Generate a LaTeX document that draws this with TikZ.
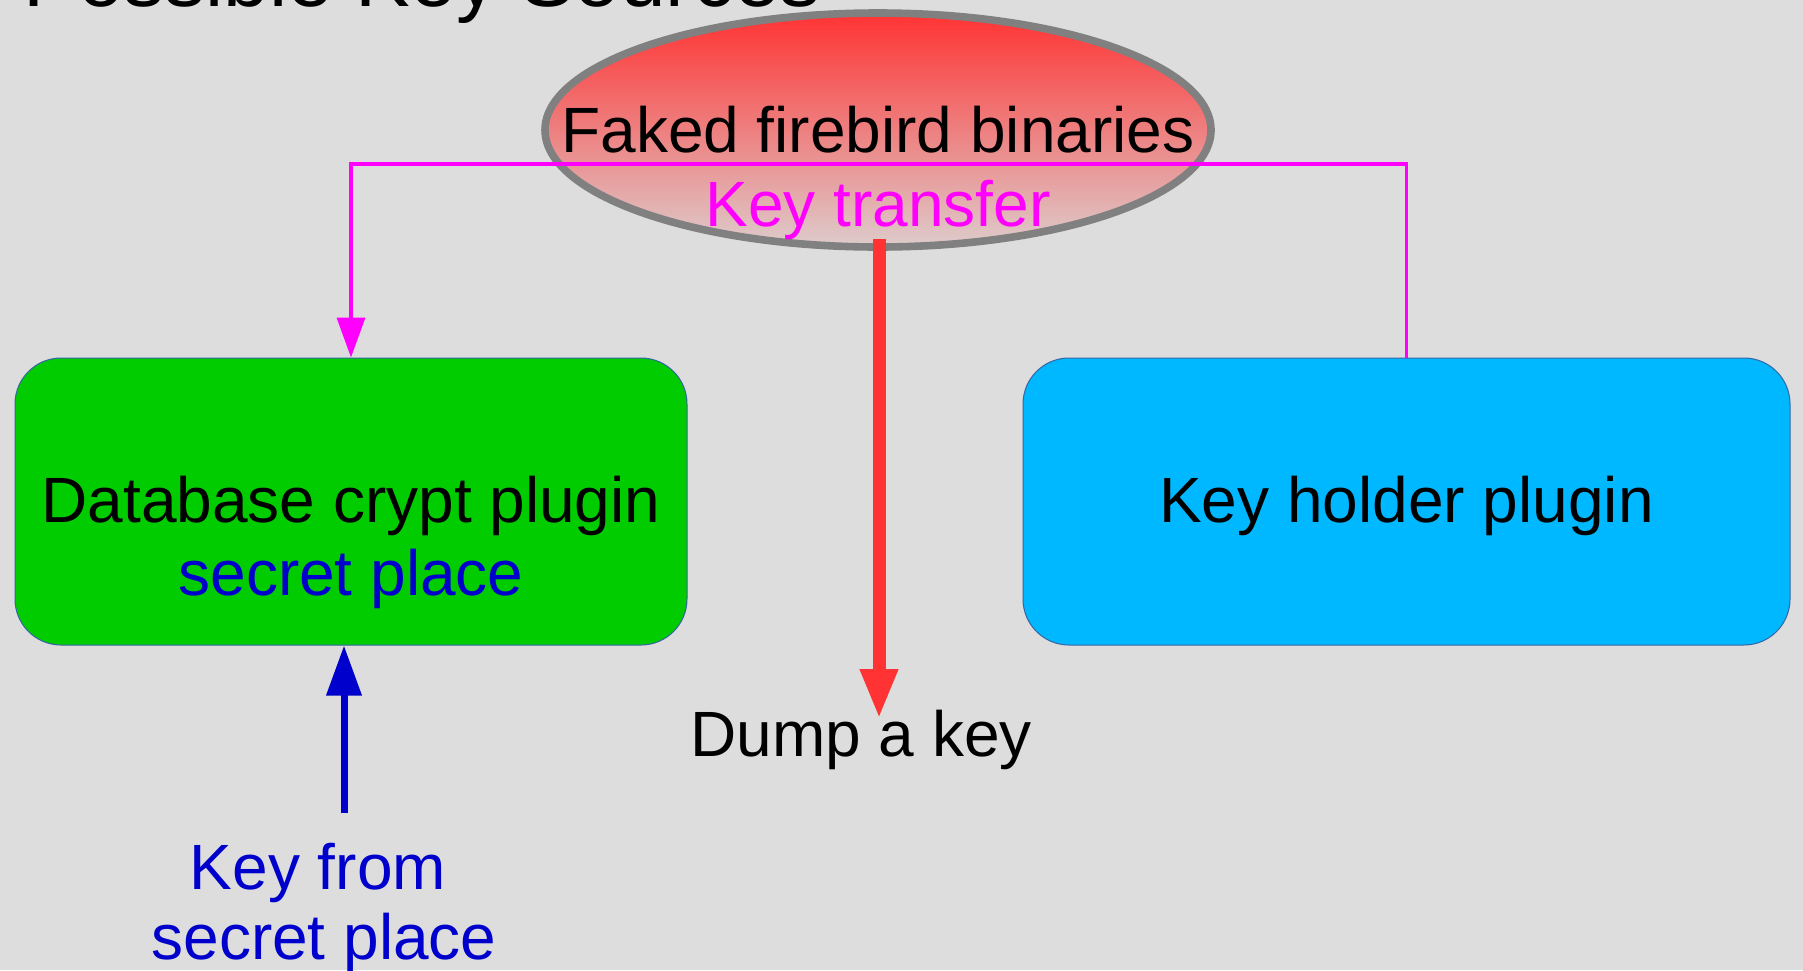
\documentclass[tikz,border=0pt]{standalone}
\usepackage{fontspec}
\setmainfont{Liberation Sans}
\usetikzlibrary{positioning,shapes,arrows.meta}
\usepackage{xcolor}
\definecolor{bgcol}{HTML}{DDDDDD}
\definecolor{cryptgreen}{HTML}{00CC00}
\definecolor{holderblue}{HTML}{00B8FF}
\definecolor{keyblue}{HTML}{0000CC}
\definecolor{transfermag}{HTML}{FF00FF}
\definecolor{dumpred}{HTML}{FF3333}
\definecolor{fakedtop}{HTML}{FF3333}
\definecolor{fakedbot}{HTML}{DDCCCC}
\definecolor{boxline}{HTML}{3465A4}
\tikzset{plugbox/.style={draw=boxline, line width=0.5pt, rounded corners=23pt, minimum height=143.5pt, text height=28pt, text depth=6.7pt}}

\begin{document}
\begin{tikzpicture}[x=0.5pt, y=-0.5pt]
		\fill[bgcol] (0,0) rectangle (1803,970);
		\clip (0,0) rectangle (1803,970);
		\node[anchor=base west, inner sep=0pt, font=\fontsize{41}{49}\selectfont] (title) at (23,6) {Possible Key Sources};
		\begin{scope}[every node/.style={font=\fontsize{32}{35}\selectfont}]
			\node[ellipse, draw=gray, line width=3.8pt, top color=fakedtop, bottom color=fakedbot, minimum width=333pt, minimum height=117pt, label=center:{Faked firebird binaries}] (fb) at (878,130) {};
			\node[plugbox, fill=cryptgreen, minimum width=336pt] (dcp) at (351,501.5) {Database crypt plugin};
			\node[text=keyblue] (sp) at (351,579) {secret place};
			\node[plugbox, fill=holderblue, minimum width=383.5pt] (kh) at (1406.5,501.5) {Key holder plugin};
			\node (dump) at (861,740) {Dump a key};
			\node[text=keyblue, align=center] (kfs) at (318,908) {Key from\\\hspace*{6pt}secret place};
			\coordinate (kt) at (878,164);
			\coordinate (dumpstart) at (879,239);
			\coordinate (dumptip) at (879,719);
			\coordinate (ksrc) at (344,813);
		\end{scope}
		\begin{scope}[every node/.style={font=\fontsize{32}{35}\selectfont}]
			\draw[transfermag, line width=1.8pt, -{Triangle[width=14pt, length=20pt]}] (kh.north) |- (kt) node[below=4pt] {Key transfer} -| (dcp.north);
			\draw[dumpred, line width=6.5pt, -{Triangle[width=17.5pt, length=25pt]}] (dumpstart) -- (dumptip);
			\draw[keyblue, line width=3.5pt, -{Triangle[width=17pt, length=25pt]}] (ksrc) -- (ksrc |- dcp.south);
		\end{scope}
	\end{tikzpicture}
\end{document}
